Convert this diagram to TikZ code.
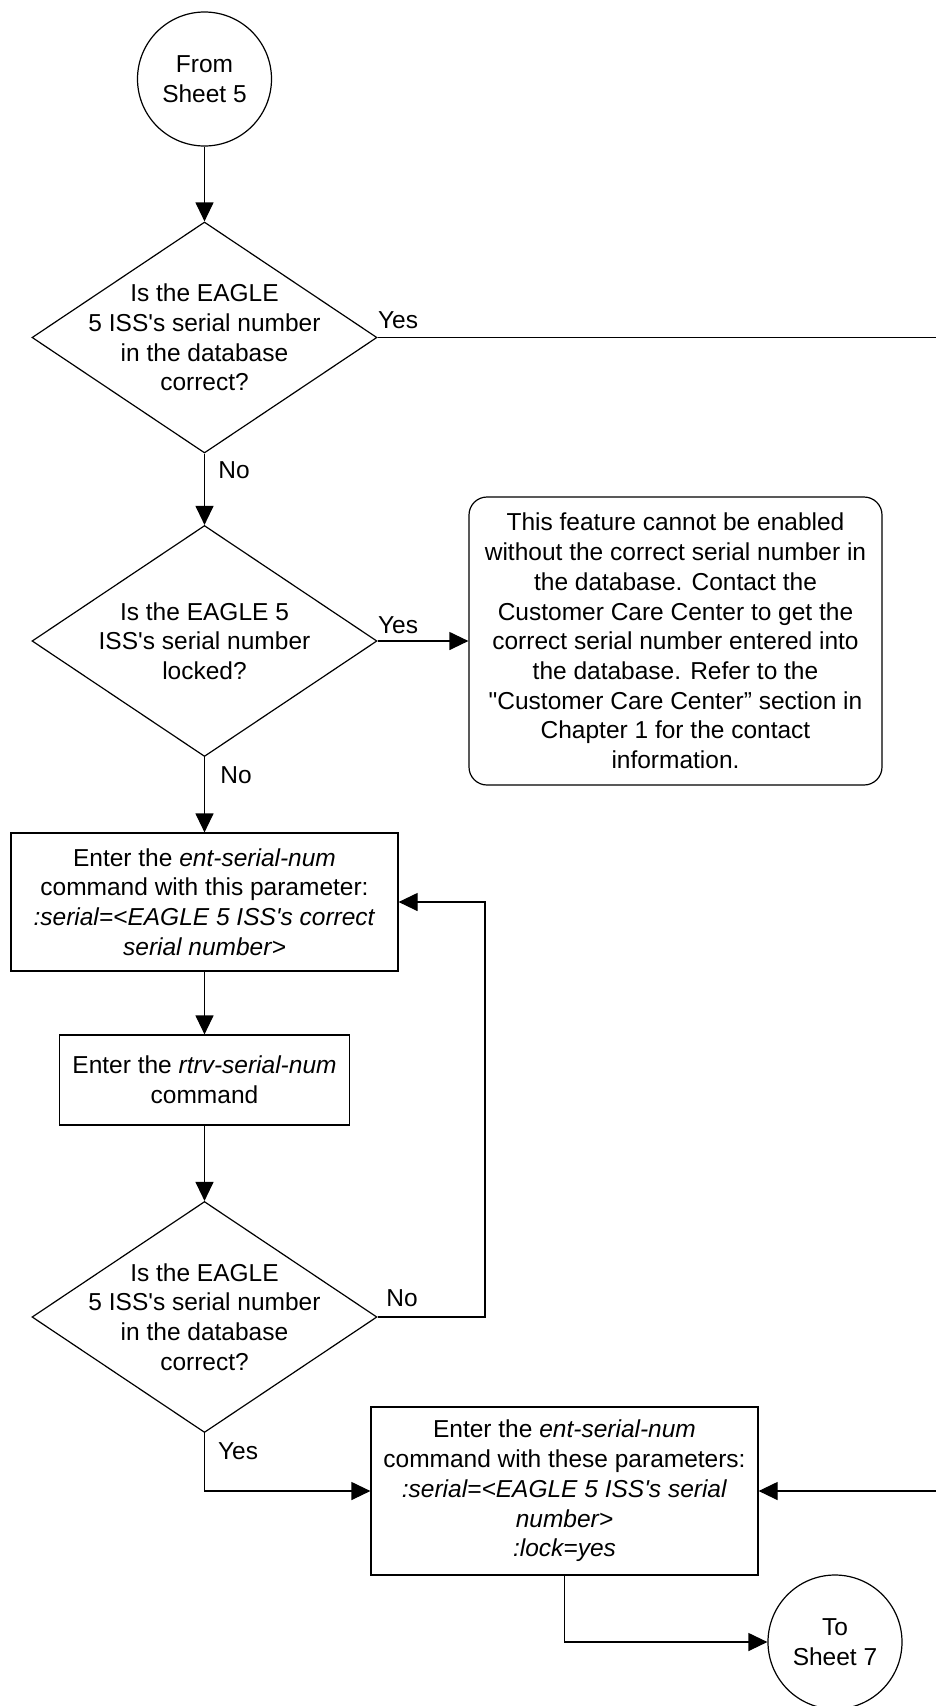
\documentclass[tikz,border=0pt]{standalone}
\usepackage{fontspec}
\setmainfont{Liberation Sans}
\usetikzlibrary{shapes.geometric,arrows.meta}
\newcommand\figfont{\fontsize{24.5}{29.7}\selectfont}
\newcommand\ap{\textquotesingle}
\tikzset{
  base/.style={draw, line width=1.2pt, font=\figfont, align=center, inner sep=0pt},
  conn/.style={circle, base, minimum size=134pt},
  dia/.style={diamond, draw, line width=1.2pt, minimum width=345pt, minimum height=231pt, inner sep=0pt},
  boxnode/.style={rectangle, base},
  infobox/.style={rectangle, rounded corners=18pt, base},
  txt/.style={font=\figfont, align=center, inner sep=0pt},
  arr/.style={line width=1.2pt, -{Triangle[length=19pt,width=18pt]}},
  ln/.style={line width=1.2pt},
  lbl/.style={font=\figfont, inner sep=0pt}
}
\begin{document}
\begin{tikzpicture}[x=1pt,y=1pt]
\useasboundingbox (0,0) rectangle (936,-1706);
% nodes
\node[conn] (start) at (204.5,-79) {From\\Sheet 5};
\node[dia] (d1) at (204.5,-337.5) {};
\node[txt] (d1t) at (d1.center) {Is the EAGLE\\5 ISS\ap s serial number\\in the database\\correct?};
\node[dia] (d2) at (204.5,-641) {};
\node[txt] (d2t) at (d2.center) {Is the EAGLE 5\\ISS\ap s serial number\\locked?};
\node[infobox, minimum width=413pt, minimum height=288pt] (info) at (675.5,-641)
  {This feature cannot be enabled\\without the correct serial number in\\the database. Contact the\\Customer Care Center to get the\\correct serial number entered into\\the database. Refer to the\\\textquotedbl Customer Care Center” section in\\Chapter 1 for the contact\\information.};
\node[boxnode, minimum width=387pt, minimum height=138pt] (b1) at (204.5,-902)
  {Enter the \textit{ent-serial-num}\\command with this parameter:\\\textit{:serial=<EAGLE 5 ISS\ap s correct}\\\textit{serial number>}};
\node[boxnode, minimum width=290pt, minimum height=90pt] (b2) at (204.5,-1080)
  {Enter the \textit{rtrv-serial-num}\\command};
\node[dia] (d3) at (204.5,-1317) {};
\node[txt] (d3t) at (d3.center) {Is the EAGLE\\5 ISS\ap s serial number\\in the database\\correct?};
\node[boxnode, minimum width=387pt, minimum height=168pt] (b3) at (564.5,-1491)
  {Enter the \textit{ent-serial-num}\\command with these parameters:\\\textit{:serial=<EAGLE 5 ISS\ap s serial}\\\textit{number>}\\\textit{:lock=yes}};
\node[conn] (end) at (835,-1642) {To\\Sheet 7};
\coordinate (rightx) at (950,-337.5);
\coordinate (loopx) at (485,-1317);
% connectors
\draw[arr] (start) -- (d1.north);
\draw[arr] (d1.east) -- (rightx) |- (b3.east);
\draw[arr] (d1.south) -- (d2.north);
\draw[arr] (d2.east) -- (info.west);
\draw[arr] (d2.south) -- (b1.north);
\draw[arr] (b1.south) -- (b2.north);
\draw[arr] (b2.south) -- (d3.north);
\draw[arr] (d3.east) -- (loopx) |- (b1.east);
\draw[arr] (d3.south) |- (b3.west);
\draw[arr] (b3.south) |- (end.west);
% labels
\node[lbl] (l1) at (398,-320) {Yes};
\node[lbl] (l2) at (234,-470) {No};
\node[lbl] (l3) at (398,-625) {Yes};
\node[lbl] (l4) at (236,-775) {No};
\node[lbl] (l5) at (402,-1298) {No};
\node[lbl] (l6) at (238,-1451) {Yes};
\end{tikzpicture}
\end{document}
